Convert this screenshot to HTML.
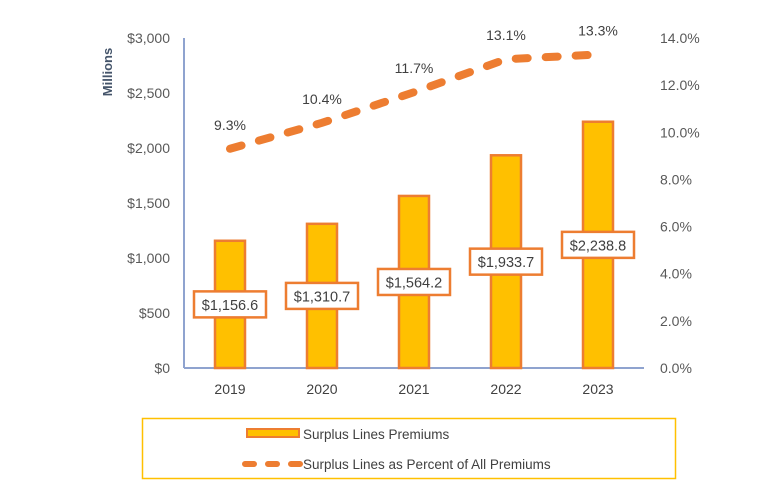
<!DOCTYPE html>
<html><head><meta charset="utf-8"><style>
body{margin:0;background:#fff;}
svg{display:block;font-family:"Liberation Sans",sans-serif;}
</style></head><body>
<svg id="chart" width="773" height="497" viewBox="0 0 773 497">
<g id="axes"></g><g id="bars"></g><g id="line"></g><g id="labels"></g>
<g>
<rect x="142.5" y="418.5" width="533" height="60" fill="#fff" stroke="#FFC000" stroke-width="1.5"/>
<rect x="247" y="429" width="52" height="8" fill="#FFC000" stroke="#ED7D31" stroke-width="2"/>
<text x="303" y="439" font-size="13.5" fill="#404040">Surplus Lines Premiums</text>
<line x1="245" y1="464" x2="300" y2="464" stroke="#ED7D31" stroke-width="6" stroke-linecap="round" stroke-dasharray="9 14"/>
<text x="303" y="469" font-size="13.5" fill="#404040">Surplus Lines as Percent of All Premiums</text>
</g>
</svg>
<script>
const years=["2019","2020","2021","2022","2023"];
const premiums=[1156.6,1310.7,1564.2,1933.7,2238.8];
const premiumLabels=["$1,156.6","$1,310.7","$1,564.2","$1,933.7","$2,238.8"];
const percents=[9.3,10.4,11.7,13.1,13.3];
const percentLabels=["9.3%","10.4%","11.7%","13.1%","13.3%"];
const leftTicks=[0,500,1000,1500,2000,2500,3000];
const leftTickLabels=["$0","$500","$1,000","$1,500","$2,000","$2,500","$3,000"];
const rightTicks=[0,2,4,6,8,10,12,14];
const rightTickLabels=["0.0%","2.0%","4.0%","6.0%","8.0%","10.0%","12.0%","14.0%"];
const NS="http://www.w3.org/2000/svg";
const yTop=38,yBot=368,x0=184,x1=644;
const yL=v=>yBot-(v/3000)*(yBot-yTop);
const yR=v=>yBot-(v/14)*(yBot-yTop);
const xC=i=>230+i*92;
function mk(t,a,p){const e=document.createElementNS(NS,t);for(const k in a)e.setAttribute(k,a[k]);p.appendChild(e);return e;}
const ax=document.getElementById('axes');
let e=mk('line',{x1:x0,y1:yTop,x2:x0,y2:yBot,stroke:'#8FA3CF','stroke-width':2},ax);


e=mk('line',{x1:x0,y1:yBot,x2:x1,y2:yBot,stroke:'#8FA3CF','stroke-width':2},ax);


leftTicks.forEach((v,i)=>{const t=mk('text',{x:170,y:yL(v)+5,'text-anchor':'end','font-size':14,fill:'#595959'},ax);t.textContent=leftTickLabels[i];

});
rightTicks.forEach((v,i)=>{const t=mk('text',{x:660,y:yR(v)+5,'font-size':14,fill:'#595959'},ax);t.textContent=rightTickLabels[i];

});
years.forEach((y,i)=>{const t=mk('text',{x:xC(i),y:394,'text-anchor':'middle','font-size':14,fill:'#404040'},ax);t.textContent=y;

});
const yt=mk('text',{x:0,y:0,transform:'translate(112,72) rotate(-90)','text-anchor':'middle','font-size':13,'font-weight':'bold',fill:'#44546A'},ax);yt.textContent='Millions';


const bg=document.getElementById('bars'),lb=document.getElementById('labels');
premiums.forEach((v,i)=>{const r=mk('rect',{x:xC(i)-15,y:yL(v),width:30,height:yBot-yL(v),fill:'#FFC000',stroke:'#ED7D31','stroke-width':2.5},bg);


const cy=(yL(v)+yBot)/2;
const b=mk('rect',{x:xC(i)-36,y:cy-13,width:72,height:26,fill:'#fff',stroke:'#ED7D31','stroke-width':2.5},lb);


const t=mk('text',{x:xC(i),y:cy+5.5,'text-anchor':'middle','font-size':14.5,fill:'#404040'},lb);t.textContent=premiumLabels[i];

});
const lg=document.getElementById('line');
const pts=percents.map((v,i)=>xC(i)+','+yR(v)).join(' ');
const pl=mk('polyline',{points:pts,fill:'none',stroke:'#ED7D31','stroke-width':8,'stroke-linecap':'round','stroke-dasharray':'12 18'},lg);


percents.forEach((v,i)=>{const t=mk('text',{x:xC(i),y:yR(v)-19,'text-anchor':'middle','font-size':14,fill:'#404040'},lb);t.textContent=percentLabels[i];

});
</script>
</body></html>
